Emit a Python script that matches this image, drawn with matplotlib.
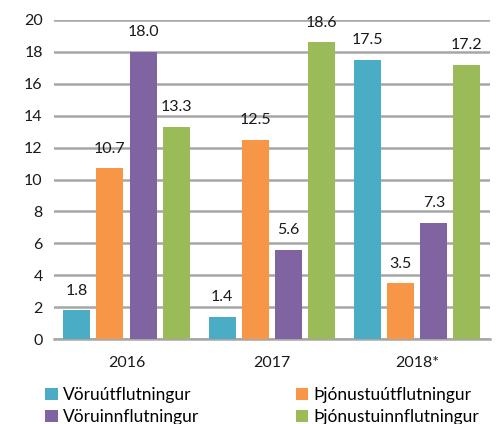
import matplotlib.pyplot as plt
import numpy as np

years = ['2016', '2017', '2018*']
series_names = ['Vöruútflutningur', 'Þjónustuútflutningur',
                'Vöruinnflutningur', 'Þjónustuinnflutningur']
voru_ut = [1.8, 1.4, 17.5]
thjon_ut = [10.7, 12.5, 3.5]
voru_inn = [18.0, 5.6, 7.3]
thjon_inn = [13.3, 18.6, 17.2]
colors = ['#4bacc6', '#f79646', '#8064a2', '#9bbb59']

plt.rcParams['font.family'] = ['Lato', 'DejaVu Sans']
plt.rcParams['font.size'] = 11.5

fig = plt.figure(figsize=(5.03, 4.24), dpi=100)
ax = fig.add_axes([0.107, 0.200, 0.867, 0.753])

x = np.arange(len(years))
width = 0.186
step = 0.228
all_series = [voru_ut, thjon_ut, voru_inn, thjon_inn]
for i, (vals, name, c) in enumerate(zip(all_series, series_names, colors)):
    pos = x + (i - 1.5) * step
    bars = ax.bar(pos, vals, width, color=c, label=name, zorder=3)
    for b, v in zip(bars, vals):
        ax.annotate('{:.1f}'.format(v), (b.get_x() + b.get_width() / 2, v),
                    xytext=(0, 9), textcoords='offset points',
                    ha='center', va='bottom', color='#1a1a1a')

ax.set_xlim(-0.5, 2.5)
ax.set_ylim(0, 20)
ax.set_yticks(range(0, 21, 2))
ax.set_xticks(x)
ax.set_xticklabels(years)
ax.yaxis.grid(True, color='#a6a6a6', linewidth=1.8, zorder=0)
for s in ['top', 'right', 'left']:
    ax.spines[s].set_visible(False)
ax.spines['bottom'].set_color('#a6a6a6')
ax.spines['bottom'].set_linewidth(1.8)
ax.tick_params(length=0, pad=8, colors='#1a1a1a')
ax.tick_params(axis='x', pad=12)

# order legend row-wise
handles, labels = ax.get_legend_handles_labels()
order = [0, 2, 1, 3]
ax.legend([handles[k] for k in order], [labels[k] for k in order],
          ncol=2, loc='upper left', bbox_to_anchor=(-0.055, -0.1),
          frameon=False, fontsize=12.5, handlelength=0.7, handleheight=0.7,
          handletextpad=0.3, columnspacing=5.6, labelspacing=0.35)

fig.savefig('out.png', dpi=100)
